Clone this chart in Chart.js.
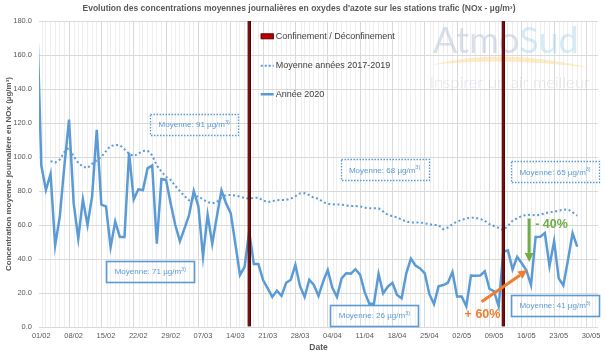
<!DOCTYPE html>
<html>
<head>
<meta charset="utf-8">
<script src="https://cdn.jsdelivr.net/npm/chart.js@4.4.1/dist/chart.umd.min.js"></script>
<style>
html,body{margin:0;padding:0;background:#fff}
</style>
</head>
<body>
<canvas id="chart" width="605" height="358"></canvas>
<script>
// jours comptés depuis le 01/02/2020 (0 = 01/02)
const tickLabels = ['01/02','08/02','15/02','22/02','29/02','07/03','14/03','21/03','28/03',
  '04/04','11/04','18/04','25/04','02/05','09/05','16/05','23/05','30/05'];

// Année 2020, du 31/01 au 28/05
const debut2020 = -1;
const valeurs2020 = [190,
  95, 80.6, 90, 48, 65, 95, 122, 73, 52, 75,
  60, 77, 116, 72, 71, 47, 62, 53, 53, 102.5,
  75, 81, 80.6, 93.3, 95, 49, 87, 86.5, 72.7, 60,
  50.5, 58, 66, 80, 71, 41.4, 66, 49, 65, 80.4,
  72.7, 67, 49, 30.6, 35.3, 56.3, 37, 37, 27.6, 22.7,
  17.7, 21.4, 18.3, 26, 27.8, 36.5, 24, 17.7, 27.8, 24.7,
  18.3, 26.7, 33.5, 23, 17.7, 28.6, 31.6, 31.4, 34, 30.8,
  20.5, 13.7, 13.7, 31.3, 19.8, 23.7, 26, 18.8, 16.9, 31.6,
  40.2, 36.2, 34.5, 31.6, 19.3, 13.5, 23.9, 24.7, 26, 32.4,
  18, 18, 12.2, 30.3, 30.1, 30.3, 32.8, 22.5, 21, 12.2,
  44.3, 45.1, 33.9, 41.2, 37.5, 33.3, 24.7, 53, 53.1, 55.3,
  35.9, 50.5, 28.6, 24.4, 39.4, 55.1, 47.3];

// Moyenne années 2017-2019, du 03/02 au 28/05
const debutMoyenne = 2;
const moyenne2017_2019 = [97.6, 96.7, 98.5, 103, 105.5, 100.5, 96.5, 94.3,
  93.5, 96, 98, 100, 103.5, 106.5, 107, 107, 104.5, 102,
  100.5, 102, 103.5, 103.8, 101, 95, 91.4, 88.4, 86.5, 83,
  80, 77, 74.5, 76, 77, 75, 73.5, 72.7, 73.5, 76,
  77.6, 77.6, 77.4, 76.7, 75.8, 75.5, 76, 76, 74.5, 73.5,
  74, 74.6, 74.7, 74.8, 75.5, 77, 78.6, 78.8, 77.6, 76,
  75.5, 73.5, 72.4, 72.2, 72, 72, 71.5, 71.2, 71.2, 71,
  70.2, 69.8, 69.8, 69.8, 68, 66, 65.2, 64.5, 63.2, 62,
  61.4, 61.4, 61.5, 61, 60.5, 60, 60, 57.5, 58.5, 60.5,
  62, 63, 63.9, 64.3, 64.2, 63.6, 62.5, 60.5, 59.4, 58.3,
  57, 59.5, 62.5, 64, 65.3, 65.9, 66, 65.6, 66, 66.9,
  67.5, 67.8, 68.4, 69, 69.2, 67.5, 65.5];

// confinement 17/03, déconfinement 11/05
const confinementJours = [45, 100];

// moyennes par période
const moyennesRef = [91, 68, 65];
const moyennes2020 = [71, 26, 41];

const BLEU = '#5b9bd5';
const FONT = "'Liberation Sans', Arial, sans-serif";

const decor = {
  id: 'decor',
  beforeDatasetsDraw(chart) {
    const ctx = chart.ctx, x = chart.scales.x, y = chart.scales.y;
    const px = d => x.getPixelForValue(d), py = v => y.getPixelForValue(v);
    ctx.save();
    // filigrane AtmoSud
    const lx = px(85.3), ly = py(161.2);
    ctx.font = "36px Lato, 'Open Sans', sans-serif";
    ctx.textBaseline = 'alphabetic';
    ctx.fillStyle = 'rgba(160,178,206,0.4)';
    ctx.fillText('Atmo', lx, ly);
    const w = ctx.measureText('Atmo').width;
    ctx.fillStyle = 'rgba(150,208,238,0.4)';
    ctx.fillText('Sud', lx + w, ly);
    ctx.fillStyle = 'rgba(252,210,130,0.45)';
    ctx.beginPath();
    ctx.moveTo(px(84.6), py(154));
    ctx.quadraticCurveTo(px(100), py(165), px(119.2), py(152.5));
    ctx.quadraticCurveTo(px(100), py(159), px(84.6), py(154));
    ctx.fill();
    ctx.fillStyle = 'rgba(180,190,205,0.4)';
    ctx.font = "300 16px Lato, 'Open Sans', sans-serif";
    const tag = 'Inspirer un air meilleur';
    const tw = ctx.measureText(tag).width;
    ctx.save();
    ctx.translate(px(84.6), py(143.5));
    ctx.scale(160 / tw, 1);
    ctx.textBaseline = 'middle';
    ctx.fillText(tag, 0, 0);
    ctx.restore();
    ctx.restore();
  },
  afterDatasetsDraw(chart) {
    const ctx = chart.ctx, x = chart.scales.x, y = chart.scales.y;
    const px = d => x.getPixelForValue(d), py = v => y.getPixelForValue(v);
    ctx.save();

    // légende
    const lgx = px(48), tx = lgx + 15;
    ctx.font = '9px ' + FONT;
    ctx.textBaseline = 'middle';
    ctx.fillStyle = '#c00000';
    ctx.strokeStyle = '#5a0000';
    ctx.lineWidth = 1;
    ctx.fillRect(lgx, py(171) - 2.5, 13, 5);
    ctx.strokeRect(lgx + 0.5, py(171) - 2.5, 12, 5);
    ctx.strokeStyle = BLEU;
    ctx.lineWidth = 2;
    ctx.setLineDash([2, 2]);
    ctx.beginPath(); ctx.moveTo(lgx, py(153.7)); ctx.lineTo(lgx + 13, py(153.7)); ctx.stroke();
    ctx.setLineDash([]);
    ctx.lineWidth = 2.5;
    ctx.beginPath(); ctx.moveTo(lgx, py(136.9)); ctx.lineTo(lgx + 13, py(136.9)); ctx.stroke();
    ctx.fillStyle = '#404040';
    ctx.fillText('Confinement / Déconfinement', tx, py(171));
    ctx.fillText('Moyenne années 2017-2019', tx, py(153.7));
    ctx.fillText('Année 2020', tx, py(136.9));

    // cadres des moyennes
    const boite = (d, v, val, pointille) => {
      const cx = px(d), cy = py(v), bw = 88, bh = 21;
      ctx.strokeStyle = BLEU;
      if (pointille) { ctx.lineWidth = 1.3; ctx.setLineDash([1.5, 1.5]); }
      else { ctx.lineWidth = 1.6; ctx.setLineDash([]); }
      ctx.strokeRect(Math.round(cx - bw / 2) + 0.5, Math.round(cy - bh / 2) + 0.5, bw, bh);
      ctx.setLineDash([]);
      const t1 = 'Moyenne: ' + val + ' µg/m', t2 = '3)';
      ctx.font = '8px ' + FONT;
      const w1 = ctx.measureText(t1).width;
      ctx.font = '5.5px ' + FONT;
      const w2 = ctx.measureText(t2).width;
      const sx = cx - (w1 + w2) / 2;
      ctx.fillStyle = BLEU;
      ctx.textBaseline = 'middle';
      ctx.font = '8px ' + FONT;
      ctx.fillText(t1, sx, cy + 0.5);
      ctx.font = '5.5px ' + FONT;
      ctx.fillText(t2, sx + w1, cy - 2);
    };
    boite(33.6, 119.1, moyennesRef[0], true);
    boite(74.8, 92.4, moyennesRef[1], true);
    boite(111.7, 91.2, moyennesRef[2], true);
    boite(24.1, 32.5, moyennes2020[0], false);
    boite(72.6, 6.9, moyennes2020[1], false);
    boite(111.7, 12.5, moyennes2020[2], false);

    // flèches
    const fleche = (d1, v1, d2, v2, col) => {
      const x1 = px(d1), y1 = py(v1), x2 = px(d2), y2 = py(v2);
      const a = Math.atan2(y2 - y1, x2 - x1), L = 9, W = 4.5;
      const bx = x2 - L * Math.cos(a), by = y2 - L * Math.sin(a);
      ctx.strokeStyle = col; ctx.fillStyle = col; ctx.lineWidth = 3;
      ctx.beginPath(); ctx.moveTo(x1, y1); ctx.lineTo(bx, by); ctx.stroke();
      ctx.beginPath();
      ctx.moveTo(x2, y2);
      ctx.lineTo(bx + W * Math.sin(a), by - W * Math.cos(a));
      ctx.lineTo(bx - W * Math.sin(a), by + W * Math.cos(a));
      ctx.closePath(); ctx.fill();
    };
    fleche(106.1, 63.8, 106.1, 38.3, '#70ad47');
    fleche(95.8, 14.9, 105.7, 33.5, '#ed7d31');
    ctx.font = 'bold 12.5px ' + FONT;
    ctx.textBaseline = 'middle';
    ctx.fillStyle = '#70ad47';
    ctx.fillText('- 40%', px(107.4), py(60.3));
    ctx.fillStyle = '#ed7d31';
    ctx.textAlign = 'center';
    ctx.fillText('+ 60%', px(96), py(7.6));
    ctx.restore();
  }
};

new Chart(document.getElementById('chart'), {
  type: 'line',
  data: {
    datasets: [
      {
        type: 'bar',
        data: confinementJours.map(d => ({x: d + 0.5, y: 180})),
        barThickness: 3,
        backgroundColor: '#7a0c0c',
        borderColor: '#3d0606',
        borderWidth: {left: 0.8, right: 0.8, top: 0, bottom: 0},
        borderSkipped: false,
        order: 0
      },
      {
        data: moyenne2017_2019.map((v, i) => ({x: debutMoyenne + i + 0.5, y: v})),
        borderColor: BLEU,
        borderWidth: 2,
        borderDash: [2, 2.6],
        pointRadius: 0,
        tension: 0,
        clip: 0,
        order: 2
      },
      {
        data: valeurs2020.map((v, i) => ({x: debut2020 + i + 0.5, y: v})),
        borderColor: BLEU,
        borderWidth: 2.5,
        pointRadius: 0,
        tension: 0,
        clip: 0,
        order: 1
      }
    ]
  },
  options: {
    responsive: false,
    animation: false,
    layout: {padding: {left: 0, right: 7, top: 0, bottom: 0}},
    plugins: {
      legend: {display: false},
      tooltip: {enabled: false},
      title: {
        display: true,
        text: "Evolution des concentrations moyennes journalières en oxydes d'azote sur les stations trafic (NOx - µg/m³)",
        color: '#595959',
        font: {family: FONT, size: 8.5, weight: 'bold'},
        padding: {top: 4, bottom: 6.8}
      }
    },
    scales: {
      x: {
        type: 'linear',
        min: 0,
        max: 121,
        offset: false,
        afterFit: s => { s.height = 31; },
        afterBuildTicks: s => {
          const t = [];
          for (let d = 0; d <= 121; d++) t.push({value: d});
          tickLabels.forEach((l, i) => t.push({value: i * 7 + 0.5}));
          t.sort((a, b) => a.value - b.value);
          s.ticks = t;
        },
        ticks: {
          autoSkip: false,
          maxRotation: 0,
          padding: 4,
          color: '#595959',
          font: {family: FONT, size: 7.5},
          callback: v => Number.isInteger(v) ? '' : tickLabels[Math.round((v - 0.5) / 7)]
        },
        grid: {
          drawTicks: false,
          color: c => {
            const v = c.tick ? c.tick.value : 0;
            if (!Number.isInteger(v)) return 'rgba(0,0,0,0)';
            return v % 7 === 0 ? '#d9d9d9' : '#eeeeee';
          }
        },
        border: {display: false},
        title: {
          display: true,
          text: 'Date',
          color: '#595959',
          font: {family: FONT, size: 8.5, weight: 'bold'},
          padding: {top: 0, bottom: 5}
        }
      },
      y: {
        min: 0,
        max: 180,
        afterFit: s => { s.width = 39; },
        ticks: {
          stepSize: 20,
          padding: 7,
          color: '#595959',
          font: {family: FONT, size: 7.5},
          callback: v => v.toFixed(1)
        },
        grid: {drawTicks: false, color: '#d9d9d9'},
        border: {display: false},
        title: {
          display: true,
          text: 'Concentration moyenne journalière en NOx (µg/m³)',
          color: '#595959',
          font: {family: FONT, size: 8, weight: 'bold'},
          padding: {top: 4, bottom: 0}
        }
      }
    }
  },
  plugins: [decor]
});
</script>
</body>
</html>
